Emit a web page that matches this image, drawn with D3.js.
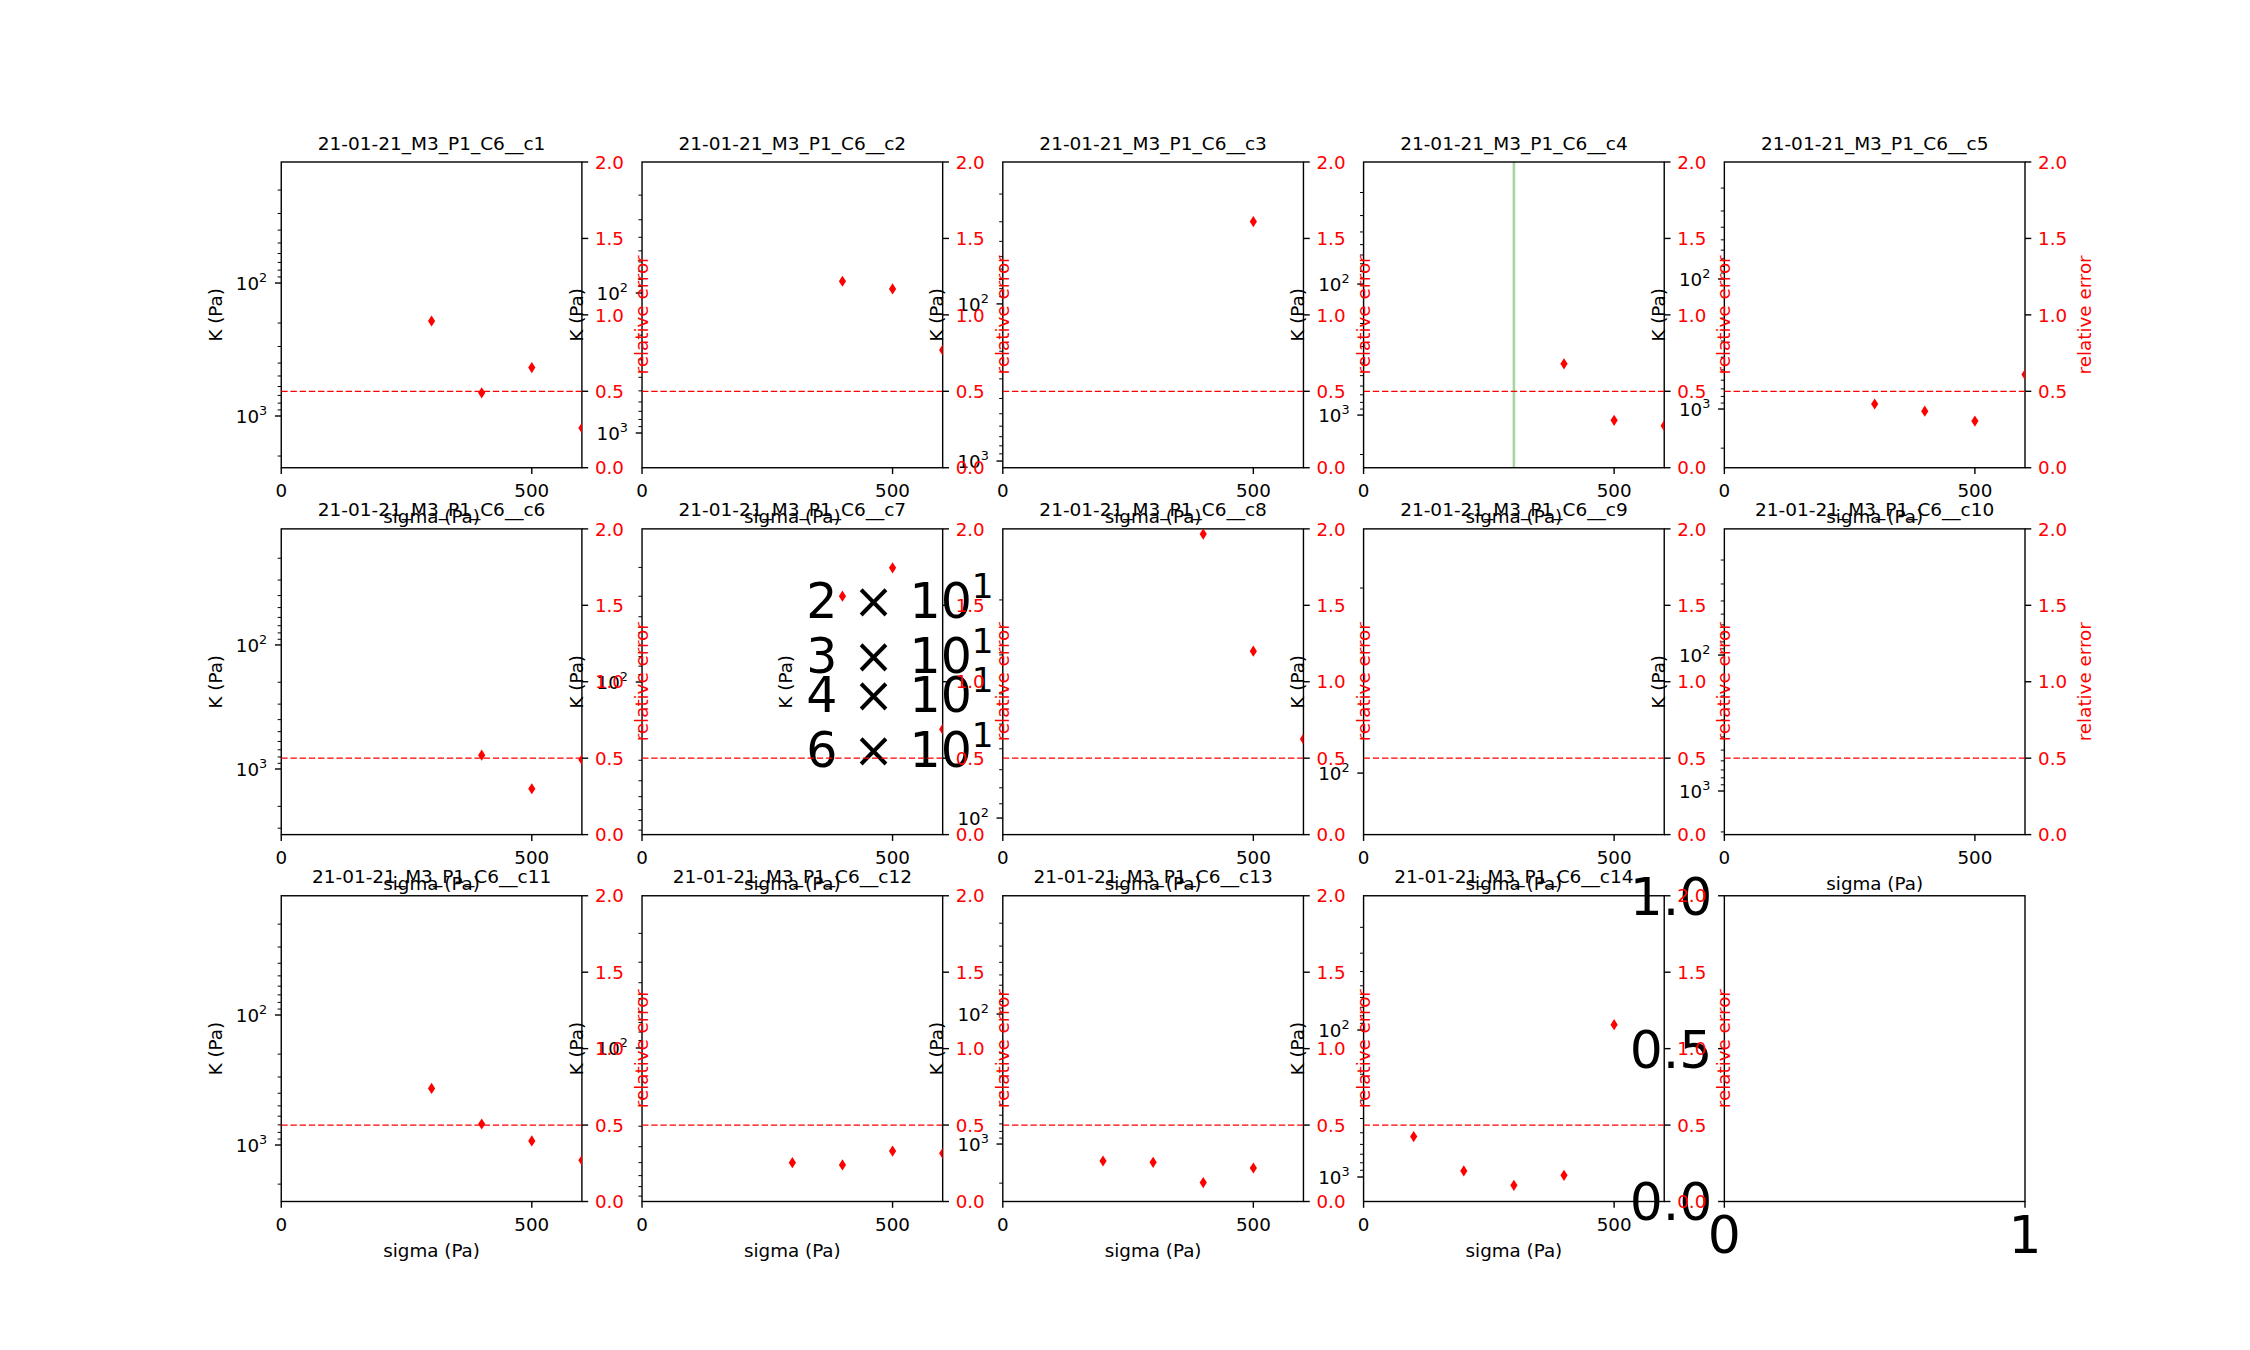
<!DOCTYPE html>
<html><head><meta charset="utf-8">
<script src="https://cdn.jsdelivr.net/npm/d3@7"></script>
<style>body{margin:0;background:#fff}svg{display:block;font-family:'DejaVu Sans',sans-serif}</style>
</head><body><svg id="chart" width="2250" height="1350"></svg>
<script>
// ---------------- data ----------------
const panelTitles = [
  "21-01-21_M3_P1_C6__c1","21-01-21_M3_P1_C6__c2","21-01-21_M3_P1_C6__c3","21-01-21_M3_P1_C6__c4","21-01-21_M3_P1_C6__c5",
  "21-01-21_M3_P1_C6__c6","21-01-21_M3_P1_C6__c7","21-01-21_M3_P1_C6__c8","21-01-21_M3_P1_C6__c9","21-01-21_M3_P1_C6__c10",
  "21-01-21_M3_P1_C6__c11","21-01-21_M3_P1_C6__c12","21-01-21_M3_P1_C6__c13","21-01-21_M3_P1_C6__c14"
];
const sigmaPoints = [
  [300,400,500,600],[400,500,600],[500],[400,500,600],[300,400,500,600],
  [400,500,600],[400,500,600],[400,500,600],[],[],
  [300,400,500,600],[300,400,500,600],[200,300,400,500],[100,200,300,400,500]
];
const relErrPoints = [
  [0.96,0.49,0.655,0.26],[1.22,1.17,0.77],[1.61],[0.68,0.31,0.275],[0.417,0.37,0.305,0.61],
  [0.52,0.30,0.49],[1.56,1.745,0.69],[1.966,1.20,0.625],[],[],
  [0.74,0.507,0.396,0.27],[0.254,0.239,0.33,0.315],[0.265,0.256,0.124,0.219],[0.425,0.20,0.106,0.171,1.157]
];
// K (Pa) log axis, inverted: value at top edge and at bottom edge
const kAxisTop    = [12.3,11.6,12.5,11.7,12.6, 11.6,11.65,11.84,4.79,11.8, 12.1,11.8,12.3,12.2];
const kAxisBottom = [2449,1770,1103,2523,2828, 3381,852,113,215,2093, 2720,863,2768,1468];
const kTickOverride = {8: {major:[100], minor:[10]}};
const kBigMinorLabels = {7: [20,30,40,60]};
const vlineSigma = [null,null,null,300,null, null,null,null,null,null, null,null,null,null];
const sigmaDomain = [0,600];
const sigmaTicks = [0,500];
const relErrDomain = [0,2];
const relErrTicks = [0,0.5,1.0,1.5,2.0];
const relErrThreshold = 0.5;
const emptyYTicks = [0,0.5,1.0];
const emptyXTicks = [0,1];

// ---------------- layout ----------------
const W=2250,H=1350;
const L=0.125*W, R=0.9*W, T=0.12*H, B=0.89*H;
const NC=5, NR=3, WS=0.2, HS=0.2;
const pw=(R-L)/(NC+(NC-1)*WS), ph=(B-T)/(NR+(NR-1)*HS);
const FS=18.3, TFS=18.5, BIG=49, BIG2=52;
const MAJ=6.3, MIN=3.6;
const svg=d3.select("#chart");
svg.append("rect").attr("width",W).attr("height",H).attr("fill","#fff");
const defs=svg.append("defs");
const primLayer=svg.append("g");
const twinLayer=svg.append("g");

function frame(i){
  const c=i%NC, r=Math.floor(i/NC);
  const x0=L+c*pw*(1+WS), y0=T+r*ph*(1+HS);
  return {x0,y0,x1:x0+pw,y1:y0+ph};
}
function powLabel(g,x,y,base,exp,size,anchor){
  const t=g.append("text").attr("x",x).attr("y",y).attr("font-size",size).attr("text-anchor",anchor).attr("fill","#000");
  t.append("tspan").text(base);
  t.append("tspan").attr("dy",-0.41*size).attr("font-size",size*0.7).text(exp);
  return t;
}
const diamond = (cx,cy)=>`M${cx},${cy-5.6}L${cx+3.6},${cy}L${cx},${cy+5.6}L${cx-3.6},${cy}Z`;

// ---------------- primary axes ----------------
for(let i=0;i<15;i++){
  const f=frame(i);
  const g=primLayer.append("g");
  g.append("rect").attr("x",f.x0).attr("y",f.y0).attr("width",pw).attr("height",ph).attr("fill","#fff");
  if(i===14){
    const xs=d3.scaleLinear().domain([0,1]).range([f.x0,f.x1]);
    const ys=d3.scaleLinear().domain([0,1]).range([f.y1,f.y0]);
    emptyYTicks.forEach(v=>{
      g.append("line").attr("x1",f.x0).attr("x2",f.x0-MAJ).attr("y1",ys(v)).attr("y2",ys(v)).attr("stroke","#000").attr("stroke-width",1.4);
      g.append("text").attr("x",f.x0-12).attr("y",ys(v)+0.365*BIG2).attr("text-anchor","end").attr("font-size",BIG2).text(v.toFixed(1));
    });
    emptyXTicks.forEach(v=>{
      g.append("line").attr("x1",xs(v)).attr("x2",xs(v)).attr("y1",f.y1).attr("y2",f.y1+MAJ).attr("stroke","#000").attr("stroke-width",1.4);
      g.append("text").attr("x",xs(v)).attr("y",f.y1+12+0.76*BIG2).attr("text-anchor","middle").attr("font-size",BIG2).text(String(v));
    });
    g.append("rect").attr("x",f.x0).attr("y",f.y0).attr("width",pw).attr("height",ph).attr("fill","none").attr("stroke","#000").attr("stroke-width",1.4);
    continue;
  }
  const xs=d3.scaleLinear().domain(sigmaDomain).range([f.x0,f.x1]);
  const ys=d3.scaleLog().domain([kAxisTop[i],kAxisBottom[i]]).range([f.y0,f.y1]);
  if(vlineSigma[i]!==null){
    g.append("line").attr("x1",xs(vlineSigma[i])).attr("x2",xs(vlineSigma[i])).attr("y1",f.y0).attr("y2",f.y1)
      .attr("stroke","#a3d79e").attr("stroke-width",2.6);
  }
  g.append("rect").attr("x",f.x0).attr("y",f.y0).attr("width",pw).attr("height",ph).attr("fill","none").attr("stroke","#000").attr("stroke-width",1.4);
  sigmaTicks.forEach(v=>{
    g.append("line").attr("x1",xs(v)).attr("x2",xs(v)).attr("y1",f.y1).attr("y2",f.y1+MAJ).attr("stroke","#000").attr("stroke-width",1.4);
    g.append("text").attr("x",xs(v)).attr("y",f.y1+29.5).attr("text-anchor","middle").attr("font-size",FS).text(String(v));
  });
  g.append("text").attr("x",(f.x0+f.x1)/2).attr("y",f.y1+55).attr("text-anchor","middle").attr("font-size",FS).text("sigma (Pa)");
  let majors=[],minors=[];
  if(kTickOverride[i]){majors=kTickOverride[i].major;minors=kTickOverride[i].minor;}
  else{
    const lo=Math.min(kAxisTop[i],kAxisBottom[i]), hi=Math.max(kAxisTop[i],kAxisBottom[i]);
    for(let k=Math.floor(Math.log10(lo));k<=Math.ceil(Math.log10(hi));k++){
      for(let m=1;m<=9;m++){
        const v=m*Math.pow(10,k);
        if(v>=lo&&v<=hi){(m===1?majors:minors).push(v);}
      }
    }
  }
  const tl=g.append("g");
  minors.forEach(v=>{
    g.append("line").attr("x1",f.x0).attr("x2",f.x0-MIN).attr("y1",ys(v)).attr("y2",ys(v)).attr("stroke","#000").attr("stroke-width",1.0);
  });
  majors.forEach(v=>{
    g.append("line").attr("x1",f.x0).attr("x2",f.x0-MAJ).attr("y1",ys(v)).attr("y2",ys(v)).attr("stroke","#000").attr("stroke-width",1.4);
    powLabel(tl,f.x0-14,ys(v)+0.365*FS,"10",String(Math.round(Math.log10(v))),FS,"end");
  });
  if(kBigMinorLabels[i]){
    kBigMinorLabels[i].forEach(v=>{
      const e=Math.floor(Math.log10(v)), m=Math.round(v/Math.pow(10,e));
      powLabel(tl,f.x0-MIN-5.5,ys(v)+0.365*BIG,m+" \u00d7 10",String(e),BIG,"end");
    });
  }
  const bb=tl.node().getBBox();
  const lx=bb.x-14, cy=(f.y0+f.y1)/2;
  g.append("text").attr("transform",`translate(${lx},${cy}) rotate(-90)`).attr("text-anchor","middle").attr("font-size",FS).text("K (Pa)");
  g.append("text").attr("x",(f.x0+f.x1)/2).attr("y",f.y0-12.5).attr("text-anchor","middle").attr("font-size",TFS).text(panelTitles[i]);
}

// ---------------- twin axes (relative error) ----------------
for(let i=0;i<14;i++){
  const f=frame(i);
  const g=twinLayer.append("g");
  const xs=d3.scaleLinear().domain(sigmaDomain).range([f.x0,f.x1]);
  const ys=d3.scaleLinear().domain(relErrDomain).range([f.y1,f.y0]);
  const cid="clip"+i;
  defs.append("clipPath").attr("id",cid).append("rect").attr("x",f.x0).attr("y",f.y0).attr("width",pw).attr("height",ph);
  const plot=g.append("g").attr("clip-path",`url(#${cid})`);
  plot.append("line").attr("x1",xs(sigmaDomain[0])).attr("x2",xs(sigmaDomain[1])).attr("y1",ys(relErrThreshold)).attr("y2",ys(relErrThreshold))
    .attr("stroke","#ff0000").attr("stroke-width",1.2).attr("stroke-dasharray","6.4,2.8");
  sigmaPoints[i].forEach((s,j)=>{
    plot.append("path").attr("d",diamond(xs(s),ys(relErrPoints[i][j]))).attr("fill","#ff0000");
  });
  const tl=g.append("g");
  relErrTicks.forEach(v=>{
    g.append("line").attr("x1",f.x1).attr("x2",f.x1+MAJ).attr("y1",ys(v)).attr("y2",ys(v)).attr("stroke","#000").attr("stroke-width",1.4);
    tl.append("text").attr("x",f.x1+13).attr("y",ys(v)+0.365*FS).attr("font-size",FS).attr("fill","#ff0000").text(v.toFixed(1));
  });
  const bb=tl.node().getBBox();
  const rx=bb.x+bb.width+24, cy=(f.y0+f.y1)/2;
  g.append("text").attr("transform",`translate(${rx},${cy}) rotate(-90)`).attr("text-anchor","middle").attr("font-size",FS).attr("fill","#ff0000").text("relative error");
}
</script></body></html>
